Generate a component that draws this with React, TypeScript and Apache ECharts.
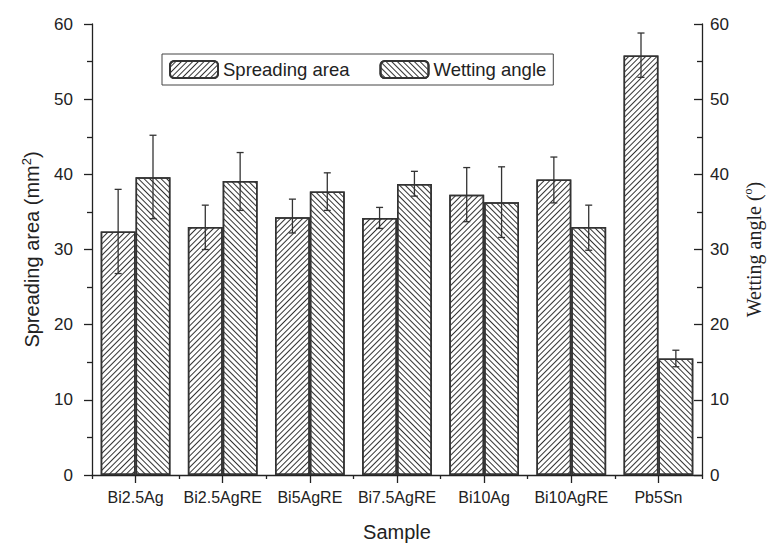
import React, { useEffect, useRef } from "react";
import * as echarts from "echarts";

const categories = ["Bi2.5Ag", "Bi2.5AgRE", "Bi5AgRE", "Bi7.5AgRE", "Bi10Ag", "Bi10AgRE", "Pb5Sn"];
const spreadingArea = [32.4, 33.0, 34.3, 34.2, 37.3, 39.3, 55.8];
const spreadingLow = [26.8, 30.0, 32.2, 32.8, 33.7, 36.2, 52.9];
const spreadingHigh = [38.0, 35.9, 36.7, 35.6, 40.9, 42.3, 58.8];
const wettingAngle = [39.6, 39.1, 37.7, 38.7, 36.3, 33.0, 15.5];
const wettingLow = [34.1, 35.2, 35.2, 37.1, 31.6, 29.9, 14.4];
const wettingHigh = [45.2, 42.9, 40.2, 40.4, 41.0, 35.9, 16.6];

const FONT = "Liberation Sans, Arial, Helvetica, sans-serif";
const SERIF = "Liberation Serif, DejaVu Serif, Times New Roman, serif";
const INK = "#222";

function errorSeries(name: string, low: number[], high: number[], side: number, yAxisIndex: number) {
  return {
    type: "custom",
    name,
    yAxisIndex,
    z: 10,
    silent: true,
    data: categories.map((_, i) => [i, low[i], high[i]]),
    renderItem: (params: any, api: any) => {
      const idx = api.value(0);
      const lo = api.coord([idx, api.value(1)]);
      const hi = api.coord([idx, api.value(2)]);
      const band = api.size([1, 0])[0];
      const x = lo[0] + side * band * 0.2;
      const cap = 3.5;
      const st = { stroke: "#333", lineWidth: 1.3 };
      return {
        type: "group",
        children: [
          { type: "line", shape: { x1: x, y1: hi[1], x2: x, y2: lo[1] }, style: st },
          { type: "line", shape: { x1: x - cap, y1: hi[1], x2: x + cap, y2: hi[1] }, style: st },
          { type: "line", shape: { x1: x - cap, y1: lo[1], x2: x + cap, y2: lo[1] }, style: st },
        ],
      };
    },
  };
}

export default function App() {
  const ref = useRef<HTMLDivElement>(null);
  useEffect(() => {
    if (!ref.current) return;
    const chart = echarts.init(ref.current, null, { renderer: "svg" });
    const decalA = {
      symbol: "rect",
      symbolSize: 1,
      dashArrayX: [1, 0],
      dashArrayY: [1, 3],
      rotation: -Math.PI / 4,
      color: "#333",
    };
    const decalB = { ...decalA, rotation: Math.PI / 4 };
    const yCommon = {
      type: "value",
      min: 0,
      max: 60,
      interval: 10,
      splitLine: { show: false },
      axisLine: { show: true, lineStyle: { color: INK, width: 1.3 } },
      minorSplitLine: { show: false },
    };
    chart.setOption({
      animation: false,
      backgroundColor: "#fff",
      textStyle: { fontFamily: FONT },
      grid: { left: 92, right: 77, top: 24, bottom: 71, containLabel: false, outerBoundsMode: "none" },
      legend: {
        left: 162,
        top: 54,
        orient: "horizontal",
        itemWidth: 48,
        itemHeight: 17,
        itemGap: 30,
        padding: [6, 7, 6, 7],
        borderColor: "#444",
        borderWidth: 1,
        textStyle: { fontFamily: FONT, fontSize: 18.5, color: INK },
        data: ["Spreading area", "Wetting angle"],
      },
      xAxis: [
        {
          type: "category",
          data: categories,
          position: "bottom",
          name: "Sample",
          nameLocation: "middle",
          nameGap: 47,
          nameTextStyle: { fontFamily: FONT, fontSize: 20, color: INK },
          axisLine: { show: true, lineStyle: { color: INK, width: 1.3 } },
          axisTick: { show: true, alignWithLabel: true, interval: 0, length: 8, lineStyle: { color: INK, width: 1.3 } },
          axisLabel: { fontFamily: FONT, fontSize: 16, color: INK, margin: 14, interval: 0 },
        },
        {
          type: "category",
          data: categories,
          position: "bottom",
          axisLine: { show: false },
          axisTick: { show: true, alignWithLabel: false, interval: 0, length: 4, lineStyle: { color: INK, width: 1.3 } },
          axisLabel: { show: false },
        },
      ],
      yAxis: [
        {
          ...yCommon,
          position: "left",
          name: "{a|Spreading area (mm}{s|2}{a|)}",
          nameLocation: "middle",
          nameRotate: 90,
          nameGap: 50,
          nameTextStyle: {
            fontFamily: FONT,
            rich: {
              a: { fontFamily: FONT, fontSize: 20, color: INK, verticalAlign: "bottom", lineHeight: 24 },
              s: { fontFamily: FONT, fontSize: 13, color: INK, verticalAlign: "bottom", padding: [0, 0, 9, 0], lineHeight: 24 },
            },
          },
          axisTick: { show: true, inside: false, length: 8, lineStyle: { color: INK, width: 1.3 } },
          minorTick: { show: true, splitNumber: 2, length: 5, lineStyle: { color: INK, width: 1.3 } },
          axisLabel: { fontFamily: FONT, fontSize: 17, color: INK, margin: 19 },
        },
        {
          ...yCommon,
          position: "right",
          name: "{a|Wetting angle (}{s|o}{a|)}",
          nameLocation: "middle",
          nameRotate: 90,
          nameGap: 38,
          nameTextStyle: {
            fontFamily: SERIF,
            rich: {
              a: { fontFamily: SERIF, fontSize: 20, color: INK, verticalAlign: "bottom", lineHeight: 24 },
              s: { fontFamily: SERIF, fontSize: 12, color: INK, verticalAlign: "bottom", padding: [0, 0, 10, 0], lineHeight: 24 },
            },
          },
          axisTick: { show: true, inside: true, length: 8, lineStyle: { color: INK, width: 1.3 } },
          minorTick: { show: true, splitNumber: 2, length: 5, lineStyle: { color: INK, width: 1.3 } },
          axisLabel: { fontFamily: FONT, fontSize: 17, color: INK, margin: 8 },
        },
      ],
      series: [
        {
          type: "bar",
          name: "Spreading area",
          data: spreadingArea,
          xAxisIndex: 0,
          yAxisIndex: 0,
          barWidth: "40%",
          barGap: "0%",
          itemStyle: { color: "#fff", borderColor: "#333", borderWidth: 1.5, decal: decalA },
        },
        {
          type: "bar",
          name: "Wetting angle",
          data: wettingAngle,
          xAxisIndex: 0,
          yAxisIndex: 1,
          barWidth: "40%",
          barGap: "0%",
          itemStyle: { color: "#fff", borderColor: "#333", borderWidth: 1.5, decal: decalB },
        },
        errorSeries("errA", spreadingLow, spreadingHigh, -1, 0),
        errorSeries("errB", wettingLow, wettingHigh, 1, 1),
      ],
    });
    return () => chart.dispose();
  }, []);
  return <div ref={ref} style={{ width: 779, height: 546, position: "absolute", left: 0, top: 0 }} />;
}
